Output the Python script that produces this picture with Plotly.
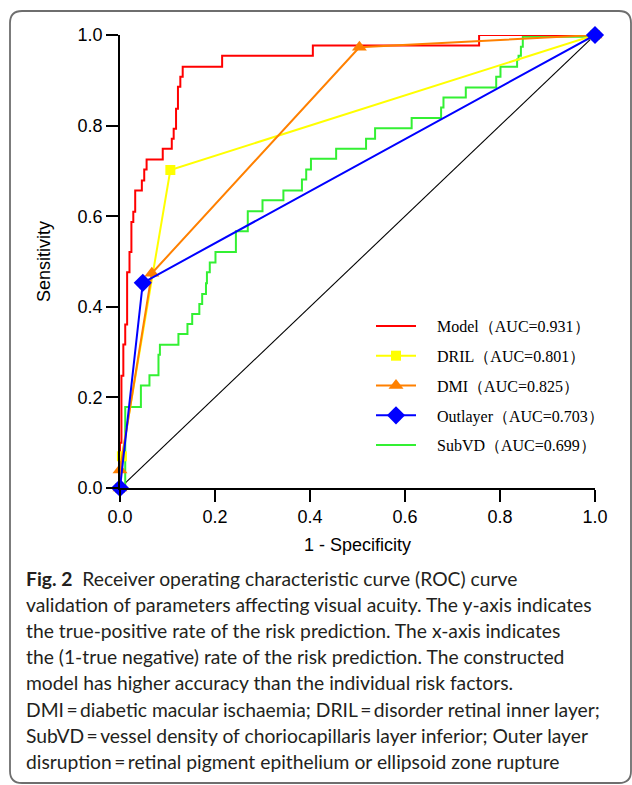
import plotly.graph_objects as go

W, H = 632, 785
ML, MR, MT, MB = 120, 37, 35, 297

# ---------------- data ----------------
# step curves: each point = (fpr, tpr) at top of a vertical step (drawn with 'hv')
model_fpr = [0, 0, 0.003, 0.007, 0.011, 0.015, 0.020, 0.024, 0.028, 0.032, 0.046, 0.051,
             0.056, 0.090, 0.109, 0.113, 0.118, 0.122, 0.127, 0.132, 0.215, 0.406, 0.756, 1.0]
model_tpr = [0, 0.10, 0.248, 0.317, 0.361, 0.476, 0.521, 0.587, 0.610, 0.657, 0.679, 0.703,
             0.725, 0.749, 0.771, 0.793, 0.837, 0.886, 0.908, 0.930, 0.954, 0.977, 1.0, 1.0]

subvd_fpr = [0, 0.011, 0.044, 0.062, 0.081, 0.084, 0.123, 0.142, 0.152, 0.167, 0.173, 0.181,
             0.183, 0.189, 0.201, 0.244, 0.269, 0.300, 0.344, 0.383, 0.392, 0.402, 0.455,
             0.518, 0.537, 0.614, 0.676, 0.681, 0.728, 0.792, 0.801, 0.836, 0.839, 0.844,
             0.848, 1.0]
subvd_tpr = [0, 0.179, 0.226, 0.249, 0.294, 0.316, 0.340, 0.362, 0.384, 0.406, 0.428, 0.452,
             0.476, 0.498, 0.521, 0.567, 0.611, 0.635, 0.657, 0.681, 0.703, 0.727, 0.749,
             0.771, 0.794, 0.817, 0.840, 0.862, 0.884, 0.908, 0.930, 0.946, 0.954, 0.974,
             0.996, 1.0]

dril_fpr = [0, 0.004, 0.106, 1.0]
dril_tpr = [0, 0.070, 0.702, 1.0]

dmi_fpr = [0, 0, 0.067, 0.504, 1.0]
dmi_tpr = [0, 0.040, 0.474, 0.973, 1.0]

outl_fpr = [0, 0.048, 1.0]
outl_tpr = [0, 0.453, 1.0]

names = ["Model（AUC=0.931）", "DRIL（AUC=0.801）", "DMI（AUC=0.825）",
         "Outlayer（AUC=0.703）", "SubVD（AUC=0.699）"]

tick_vals = [0, 0.2, 0.4, 0.6, 0.8, 1.0]
tick_text = ["0.0", "0.2", "0.4", "0.6", "0.8", "1.0"]

caption = [
    "<b>Fig. 2</b>  Receiver operating characteristic curve (ROC) curve",
    "validation of parameters affecting visual acuity. The y-axis indicates",
    "the true-positive rate of the risk prediction. The x-axis indicates",
    "the (1-true negative) rate of the risk prediction. The constructed",
    "model has higher accuracy than the individual risk factors.",
    "DMI\u2009=\u2009diabetic macular ischaemia; DRIL\u2009=\u2009disorder retinal inner layer;",
    "SubVD\u2009=\u2009vessel density of choriocapillaris layer inferior; Outer layer",
    "disruption\u2009=\u2009retinal pigment epithelium or ellipsoid zone rupture",
]

# ---------------- helpers ----------------
PW, PH = W - ML - MR, H - MT - MB


def px_x(p):
    return (p - ML) / PW


def px_y(p):
    return (H - MB - p) / PH


PAD = "\u00a0" * 4

fig = go.Figure()

fig.add_trace(go.Scatter(x=[0, 1], y=[0, 1], mode="lines",
                         line=dict(color="black", width=1.1),
                         showlegend=False, hoverinfo="skip"))

fig.add_trace(go.Scatter(x=subvd_fpr, y=subvd_tpr, mode="lines", name=PAD + names[4],
                         line=dict(color="#33F033", width=2, shape="hv"),
                         legendrank=5, legendgroup="g5", cliponaxis=False))

fig.add_trace(go.Scatter(x=model_fpr, y=model_tpr, mode="lines", name=PAD + names[0],
                         line=dict(color="#FF0000", width=2, shape="hv"),
                         legendrank=1, legendgroup="g1", cliponaxis=False))

fig.add_trace(go.Scatter(x=dril_fpr, y=dril_tpr, mode="lines+markers", name=PAD + names[1],
                         line=dict(color="#FFFF00", width=2),
                         marker=dict(symbol="square", size=10, color="#FFFF00"),
                         legendrank=2, legendgroup="g2", cliponaxis=False))

fig.add_trace(go.Scatter(x=dmi_fpr, y=dmi_tpr, mode="lines+markers", name=PAD + names[2],
                         line=dict(color="#FF8000", width=2),
                         marker=dict(symbol="triangle-up", size=13, color="#FF8000"),
                         legendrank=3, legendgroup="g3", cliponaxis=False))

fig.add_trace(go.Scatter(x=outl_fpr, y=outl_tpr, mode="lines+markers", name=PAD + names[3],
                         line=dict(color="#0000FF", width=2),
                         marker=dict(symbol="diamond", size=14, color="#0000FF"),
                         legendrank=4, legendgroup="g4", cliponaxis=False))

axis_common = dict(range=[0, 1], showgrid=False, zeroline=False, showline=True,
                   linecolor="black", linewidth=1.5, ticks="outside", ticklen=12,
                   tickwidth=1.5, tickcolor="black", tickvals=tick_vals,
                   ticktext=tick_text,
                   tickfont=dict(family="Liberation Sans, Arial", size=18, color="black"))

fig.update_xaxes(**axis_common,
                 title=dict(text="1 - Specificity", standoff=12,
                            font=dict(family="Liberation Sans, Arial", size=18, color="black")))
fig.update_yaxes(**axis_common,
                 title=dict(text="Sensitivity", standoff=22,
                            font=dict(family="Liberation Sans, Arial", size=18, color="black")))

# border (rounded rectangle) in paper coords
bx0, bx1, by0, by1, r = 10, 631, 11, 783, 12
path = (f"M{px_x(bx0 + r)},{px_y(by0)} L{px_x(bx1 - r)},{px_y(by0)} "
        f"Q{px_x(bx1)},{px_y(by0)} {px_x(bx1)},{px_y(by0 + r)} "
        f"L{px_x(bx1)},{px_y(by1 - r)} "
        f"Q{px_x(bx1)},{px_y(by1)} {px_x(bx1 - r)},{px_y(by1)} "
        f"L{px_x(bx0 + r)},{px_y(by1)} "
        f"Q{px_x(bx0)},{px_y(by1)} {px_x(bx0)},{px_y(by1 - r)} "
        f"L{px_x(bx0)},{px_y(by0 + r)} "
        f"Q{px_x(bx0)},{px_y(by0)} {px_x(bx0 + r)},{px_y(by0)} Z")
fig.add_shape(type="path", path=path, xref="paper", yref="paper",
              line=dict(color="#6e6e6e", width=1.8), fillcolor="rgba(0,0,0,0)",
              layer="below")

# caption
line_y0, line_step = 578, 26.2
for i, txt in enumerate(caption):
    fig.add_annotation(text=txt, xref="paper", yref="paper",
                       x=px_x(24), y=px_y(line_y0 + i * line_step),
                       xanchor="left", yanchor="middle", showarrow=False,
                       font=dict(family="Lato, Open Sans, sans-serif", size=19.3,
                                 color="#231f20"))

fig.update_layout(
    width=W, height=H, autosize=False,
    margin=dict(l=ML, r=MR, t=MT, b=MB),
    paper_bgcolor="white", plot_bgcolor="white",
    showlegend=True,
    legend=dict(x=px_x(371), y=px_y(309), xanchor="left", yanchor="top",
                bgcolor="rgba(0,0,0,0)", borderwidth=0, tracegroupgap=6,
                itemwidth=40,
                font=dict(family="Liberation Serif, Times New Roman, serif",
                          size=16, color="black")),
)

fig.write_html("out.html")
